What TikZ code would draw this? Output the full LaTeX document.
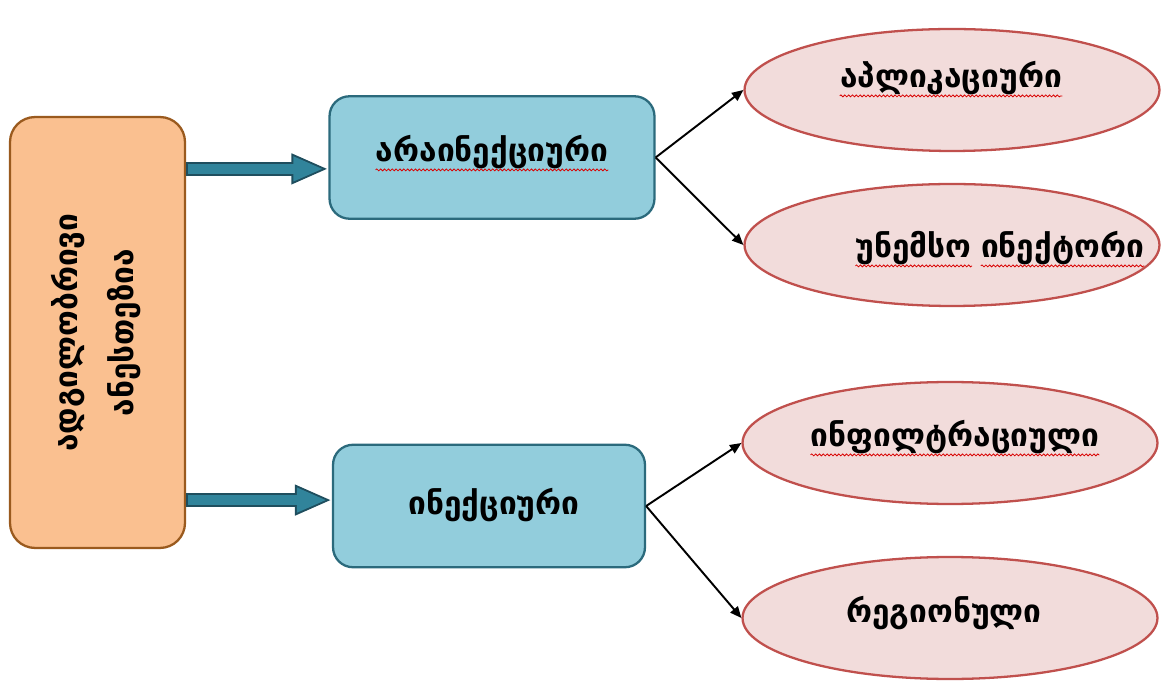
\documentclass[tikz,border=0pt]{standalone}
\usepackage{fontspec}
\newfontfamily\geofont{DejaVu Sans}
\usepackage{xcolor}
\usetikzlibrary{arrows.meta, positioning, calc, shapes.geometric, decorations.pathmorphing}
\definecolor{srcfill}{HTML}{FAC090}
\definecolor{srcedge}{HTML}{9A5A1E}
\definecolor{kindfill}{HTML}{92CDDC}
\definecolor{kindedge}{HTML}{2B6A7C}
\definecolor{subfill}{HTML}{F2DCDB}
\definecolor{subedge}{HTML}{C0504D}
\definecolor{fatfill}{HTML}{31849B}
\definecolor{fatdark}{HTML}{1F4E5E}

\begin{document}
\begin{tikzpicture}[x=0.02cm, y=-0.02cm, every node/.style={font=\geofont\bfseries\fontsize{18}{22}\selectfont},
    srcbox/.style={draw=srcedge, fill=srcfill, line width=1.3pt, rounded corners=0.5cm, minimum width=3.5cm, minimum height=8.62cm},
    kindbox/.style={draw=kindedge, fill=kindfill, line width=1.3pt, rounded corners=0.4cm, minimum height=2.45cm},
    subell/.style={ellipse, draw=subedge, fill=subfill, line width=1.3pt, minimum width=8.3cm, minimum height=2.44cm},
    txt/.style={inner sep=0pt, anchor=base},
    fatedge/.style={line width=7.6pt, draw=fatdark, -{Triangle[length=21pt,width=16pt]}},
    fatcore/.style={line width=5.6pt, draw=fatfill, shorten <=1pt, shorten >=2.8pt, -{Triangle[length=17.2pt,width=13pt]}},
    branch/.style={line width=1.1pt, -{Triangle[length=6.5pt,width=5.5pt]}},
    spell/.style={draw=red!85!black, line width=0.45pt, decorate, decoration={snake, amplitude=0.55pt, segment length=2.2pt}}]
    \useasboundingbox (0,0) rectangle (1165,688);
    \node[srcbox] (src) at (97.5,332.5) {\rotatebox{90}{\begin{tabular}{@{}c@{}}ადგილობრივი\\[10pt]ანესთეზია\end{tabular}}};
    \node[kindbox,minimum width=6.5cm] (top) at (492,157.5) {};
    \node[kindbox,minimum width=6.24cm] (bot) at (489,506) {};
    \node[subell] (e1) at (952,90) {};
    \node[subell] (e2) at (952,245) {};
    \node[subell] (e3) at (950,443) {};
    \node[subell] (e4) at (950,618) {};
    \node[txt] (topt) at (492,162) {არაინექციური};
    \node[txt] (bott) at (494,514) {ინექციური};
    \node[txt] (e1t) at (951,88) {აპლიკაციური};
    \node[txt,anchor=base east] (e2a) at (972,258) {უნემსო};
    \node[txt,anchor=base west] (e2b) at ([xshift=5pt]e2a.base east) {ინექტორი};
    \node[txt] (e3t) at (955,447) {ინფილტრაციული};
    \node[txt] (e4t) at (944,622) {რეგიონული};
    % thick arrows out of the left box
    \coordinate (f1) at ($(src.north east)+(0,53)$);
    \coordinate (f2) at ($(src.south east)+(0,-49)$);
    \draw[fatedge] (f1) -- (f1 -| top.west);
    \draw[fatcore] (f1) -- (f1 -| top.west);
    \draw[fatedge] (f2) -- (f2 -| bot.west);
    \draw[fatcore] (f2) -- (f2 -| bot.west);
    \draw[branch] (top.east) -- (e1.west);
    \draw[branch] (top.east) -- (e2.west);
    \draw[branch] (bot.east) -- (e3.west);
    \draw[branch] (bot.east) -- (e4.west);
    % spell-check marks
    \foreach \w in {topt, e1t, e2a, e2b, e3t}
        \draw[spell] ([yshift=-4.5pt]\w.base west) -- ([yshift=-4.5pt]\w.base east);
\end{tikzpicture}
\end{document}
